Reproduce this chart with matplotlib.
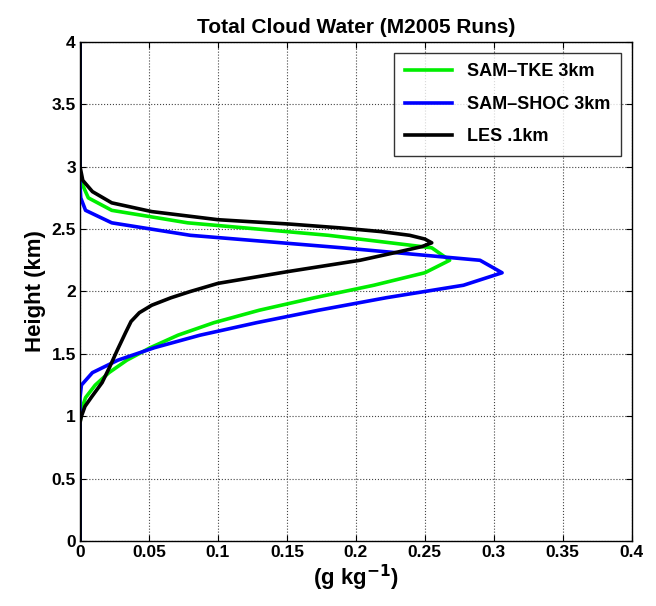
import numpy as np
import matplotlib
matplotlib.use("Agg")
import matplotlib.pyplot as plt

plt.rcParams['font.family'] = ['Liberation Sans', 'DejaVu Sans']
plt.rcParams['font.weight'] = 'bold'

# SAM-TKE 3km
tke_z = [0.0, 0.95, 1.05, 1.15, 1.25, 1.35, 1.45, 1.55, 1.65, 1.75, 1.85, 1.95,
         2.05, 2.15, 2.25, 2.35, 2.45, 2.55, 2.65, 2.75, 2.85, 2.95, 4.0]
tke_q = [0.0, 0.0, 0.001, 0.004, 0.011, 0.021, 0.034, 0.051, 0.071, 0.097, 0.13, 0.17,
         0.213, 0.25, 0.268, 0.255, 0.18, 0.078, 0.023, 0.006, 0.002, 0.0, 0.0]

# SAM-SHOC 3km
shoc_z = [0.0, 1.15, 1.25, 1.35, 1.45, 1.55, 1.65, 1.75, 1.85, 1.95, 2.05, 2.15,
          2.25, 2.35, 2.45, 2.55, 2.65, 2.75, 2.85, 4.0]
shoc_q = [0.0, 0.0, 0.001, 0.009, 0.0275, 0.054, 0.087, 0.128, 0.173, 0.222, 0.278, 0.306,
          0.29, 0.19, 0.08, 0.023, 0.004, 0.0005, 0.0, 0.0]

# LES .1km
les_z = [0.0, 0.95, 1.0, 1.08, 1.16, 1.27, 1.4, 1.53, 1.67, 1.76, 1.83, 1.89, 1.95, 2.0,
         2.065, 2.16, 2.25, 2.32, 2.36, 2.39, 2.42, 2.45, 2.48, 2.51, 2.54, 2.575,
         2.64, 2.71, 2.8, 2.89, 3.0, 4.0]
les_q = [0.0, 0.0, 0.001, 0.0036, 0.0087, 0.016, 0.0217, 0.027, 0.033, 0.037, 0.043, 0.052, 0.066, 0.08,
         0.1, 0.151, 0.203, 0.232, 0.248, 0.255, 0.25, 0.239, 0.218, 0.188, 0.152, 0.1,
         0.052, 0.023, 0.009, 0.002, 0.0, 0.0]

fig = plt.figure(figsize=(6.56, 6.06), dpi=100)
ax = fig.add_axes([0.122, 0.107, 0.841, 0.824])

ax.plot(tke_q, tke_z, color='#00ee00', lw=2.6, label='SAM\u2013TKE 3km')
ax.plot(shoc_q, shoc_z, color='#0000ff', lw=2.6, label='SAM\u2013SHOC 3km')
ax.plot(les_q, les_z, color='black', lw=2.6, label='LES .1km')

ax.set_xlim(0, 0.4)
ax.set_ylim(0, 4)
ax.set_xticks(np.arange(0, 0.401, 0.05))
ax.set_yticks(np.arange(0, 4.01, 0.5))
ax.set_xticklabels(['0', '0.05', '0.1', '0.15', '0.2', '0.25', '0.3', '0.35', '0.4'])
ax.set_yticklabels(['0', '0.5', '1', '1.5', '2', '2.5', '3', '3.5', '4'])
ax.tick_params(direction='in', top=True, right=True, labelsize=12.5, length=4, width=0.8, pad=3)
ax.grid(True, linestyle=':', color='#444444', linewidth=0.8)
for sp in ax.spines.values():
    sp.set_linewidth(1.0)

ax.set_title('Total Cloud Water (M2005 Runs)', fontsize=15, fontweight='bold', pad=6)
ax.set_xlabel('(g kg$^{\\mathbf{-1}}$)', fontsize=16, fontweight='bold', labelpad=2)
ax.set_ylabel('Height (km)', fontsize=16, fontweight='bold', labelpad=4)

leg = ax.legend(loc='upper right', fontsize=13, frameon=True, fancybox=False,
                edgecolor='black', handlelength=2.6, borderpad=0.6, labelspacing=0.85,
                borderaxespad=0.6)
leg.get_frame().set_linewidth(1.0)

fig.savefig('out.png', dpi=100)
